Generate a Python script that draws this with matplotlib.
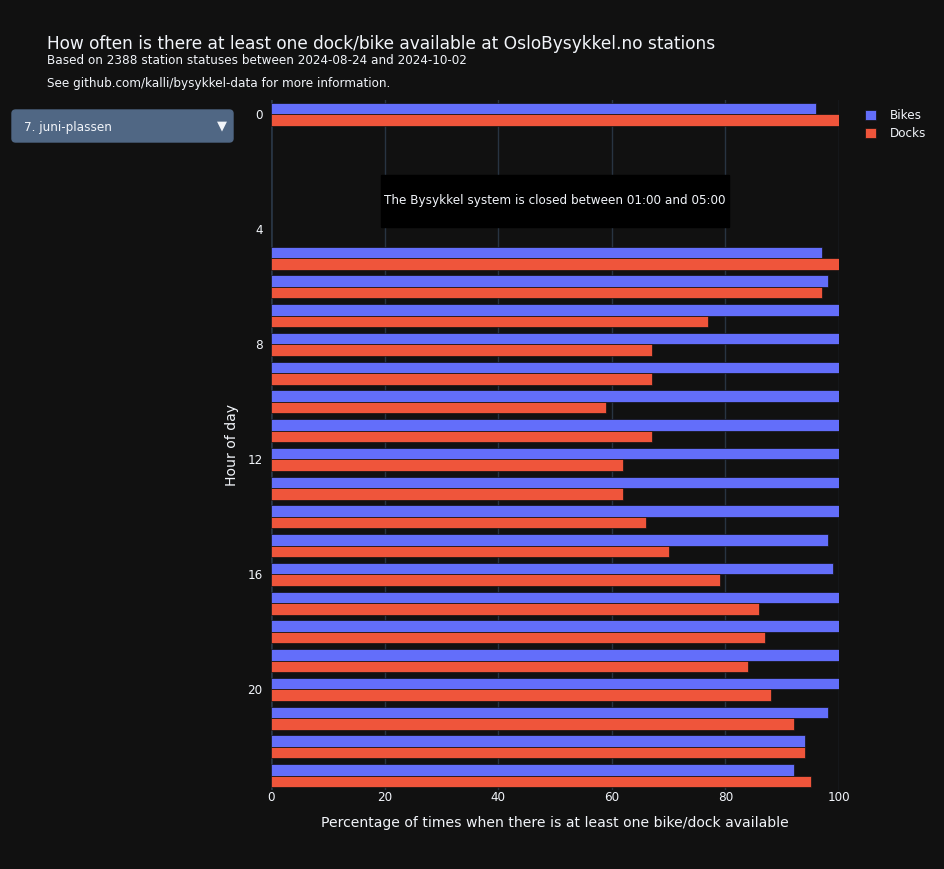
import numpy as np
import matplotlib.pyplot as plt
from matplotlib.patches import FancyBboxPatch, Rectangle

hours = [0, 5, 6, 7, 8, 9, 10, 11, 12, 13, 14, 15, 16, 17, 18, 19, 20, 21, 22, 23]
bikes = [96, 97, 98, 100, 100, 100, 100, 100, 100, 100, 100, 98, 99, 100, 100, 100, 100, 98, 94, 92]
docks = [100, 100, 97, 77, 67, 67, 59, 67, 62, 62, 66, 70, 79, 86, 87, 84, 88, 92, 94, 95]
station = "7. juni-plassen"

BG = '#111111'
FG = '#f2f5fa'
GRID = '#283442'
FONT = ['DejaVu Sans']

plt.rcParams['font.family'] = FONT

W, H = 944, 869
fig = plt.figure(figsize=(W / 100, H / 100), dpi=100, facecolor=BG)


def px(x, y):
  return x / W, 1 - y / H


pt = 72 / 100  # px -> pt

ax = fig.add_axes([271 / W, (H - 790) / H, 568 / W, 690 / H], facecolor=BG)

y = np.array(hours, dtype=float)
ax.barh(y - 0.2, bikes, height=0.4, color='#636efa', edgecolor=BG,
        linewidth=0.5, label='Bikes', zorder=3)
ax.barh(y + 0.2, docks, height=0.4, color='#EF553B', edgecolor=BG,
        linewidth=0.5, label='Docks', zorder=3)

ax.set_xlim(0, 100)
ax.set_ylim(23.5, -0.5)
ax.set_xticks([0, 20, 40, 60, 80, 100])
ax.set_yticks([0, 4, 8, 12, 16, 20])
ax.grid(axis='x', color=GRID, linewidth=1, zorder=0)
ax.axvline(0, color=GRID, linewidth=2, zorder=1)
for s in ax.spines.values():
  s.set_visible(False)
ax.tick_params(colors=FG, labelsize=12 * pt, length=0, pad=6)
ax.tick_params(axis='x', pad=1)
ax.set_xlabel('Percentage of times when there is at least one bike/dock available',
              color=FG, fontsize=14 * pt, labelpad=8)
ax.set_ylabel('Hour of day', color=FG, fontsize=14 * pt, labelpad=6)

# closed-hours note
ax.add_patch(Rectangle((19.4, 2.1), 61.2, 1.8, facecolor='black',
                       edgecolor='black', zorder=4))
ax.text(50, 3, 'The Bysykkel system is closed between 01:00 and 05:00',
        ha='center', va='center', color=FG, fontsize=12 * pt, zorder=5)

# titles
fig.text(*px(47, 44), 'How often is there at least one dock/bike available at OsloBysykkel.no stations',
         color=FG, fontsize=17 * pt, va='center', ha='left')
fig.text(*px(47, 61), 'Based on 2388 station statuses between 2024-08-24 and 2024-10-02',
         color=FG, fontsize=12 * pt, va='center', ha='left')
fig.text(*px(47, 83), 'See github.com/kalli/bysykkel-data for more information.',
         color=FG, fontsize=12 * pt, va='center', ha='left')

# dropdown
x0, y0 = px(12, 142)
box = FancyBboxPatch((x0, y0), 221 / W, 32 / H,
                     boxstyle='round,pad=0,rounding_size=0.004',
                     transform=fig.transFigure, facecolor='#506784',
                     edgecolor='#506784', linewidth=1)
fig.patches.append(box)
fig.text(*px(24, 127), station, color=FG, fontsize=12 * pt, va='center', ha='left')
fig.text(*px(222, 126), '\u25bc', color=FG, fontsize=13 * pt, va='center',
         ha='center')

# legend
leg = ax.legend(loc='upper left', bbox_to_anchor=(854 / W, 1 - 98 / H),
                bbox_transform=fig.transFigure, frameon=False,
                fontsize=12 * pt, labelcolor=FG, handlelength=0.9,
                handleheight=0.9, handletextpad=1.2, labelspacing=0.45)

fig.savefig('out.png', dpi=100, facecolor=BG)
